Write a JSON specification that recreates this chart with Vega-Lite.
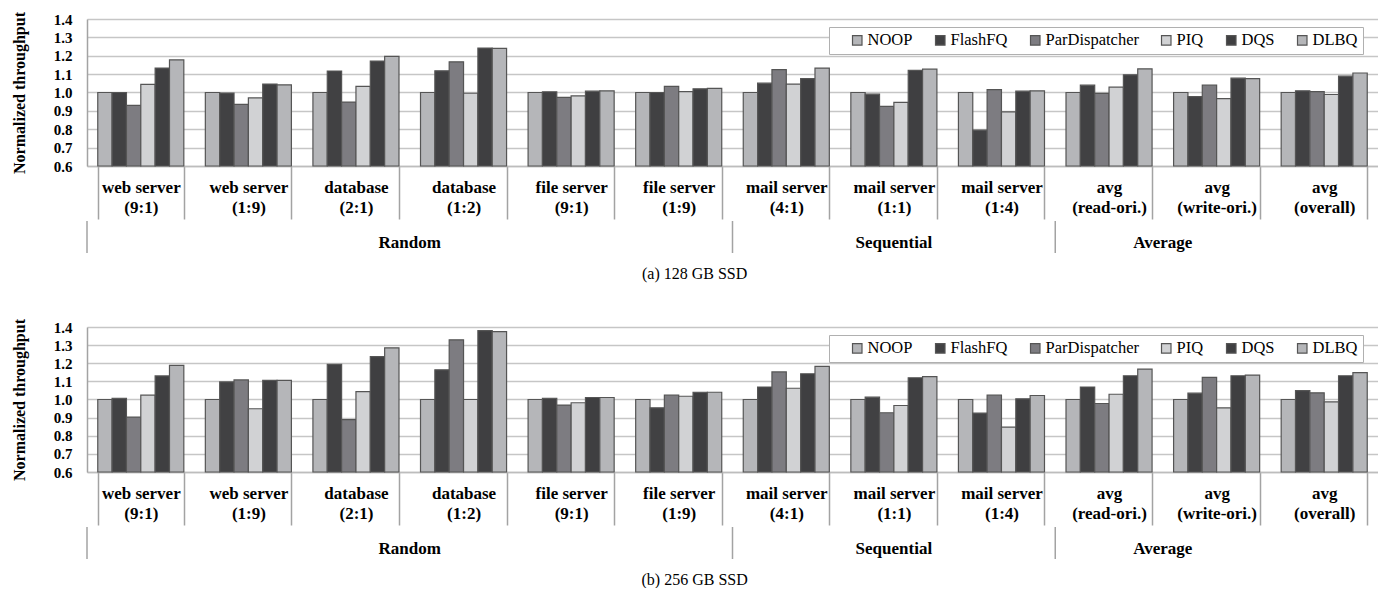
{
  "$schema": "https://vega.github.io/schema/vega-lite/v6.json",
  "background": "white",
  "padding": {"left": 11, "top": 11, "right": 0, "bottom": 0},
  "datasets": {
    "ssd128": [
      {"w":"web server (9:1)","s":"NOOP","v":1.0},{"w":"web server (9:1)","s":"FlashFQ","v":1.0},{"w":"web server (9:1)","s":"ParDispatcher","v":0.93},{"w":"web server (9:1)","s":"PIQ","v":1.044},{"w":"web server (9:1)","s":"DQS","v":1.133},{"w":"web server (9:1)","s":"DLBQ","v":1.178},
      {"w":"web server (1:9)","s":"NOOP","v":1.0},{"w":"web server (1:9)","s":"FlashFQ","v":0.997},{"w":"web server (1:9)","s":"ParDispatcher","v":0.935},{"w":"web server (1:9)","s":"PIQ","v":0.971},{"w":"web server (1:9)","s":"DQS","v":1.046},{"w":"web server (1:9)","s":"DLBQ","v":1.042},
      {"w":"database (2:1)","s":"NOOP","v":1.0},{"w":"database (2:1)","s":"FlashFQ","v":1.117},{"w":"database (2:1)","s":"ParDispatcher","v":0.948},{"w":"database (2:1)","s":"PIQ","v":1.033},{"w":"database (2:1)","s":"DQS","v":1.171},{"w":"database (2:1)","s":"DLBQ","v":1.197},
      {"w":"database (1:2)","s":"NOOP","v":1.0},{"w":"database (1:2)","s":"FlashFQ","v":1.118},{"w":"database (1:2)","s":"ParDispatcher","v":1.167},{"w":"database (1:2)","s":"PIQ","v":0.996},{"w":"database (1:2)","s":"DQS","v":1.242},{"w":"database (1:2)","s":"DLBQ","v":1.24},
      {"w":"file server (9:1)","s":"NOOP","v":1.0},{"w":"file server (9:1)","s":"FlashFQ","v":1.004},{"w":"file server (9:1)","s":"ParDispatcher","v":0.973},{"w":"file server (9:1)","s":"PIQ","v":0.982},{"w":"file server (9:1)","s":"DQS","v":1.007},{"w":"file server (9:1)","s":"DLBQ","v":1.009},
      {"w":"file server (1:9)","s":"NOOP","v":1.0},{"w":"file server (1:9)","s":"FlashFQ","v":1.0},{"w":"file server (1:9)","s":"ParDispatcher","v":1.033},{"w":"file server (1:9)","s":"PIQ","v":1.005},{"w":"file server (1:9)","s":"DQS","v":1.02},{"w":"file server (1:9)","s":"DLBQ","v":1.022},
      {"w":"mail server (4:1)","s":"NOOP","v":1.0},{"w":"mail server (4:1)","s":"FlashFQ","v":1.051},{"w":"mail server (4:1)","s":"ParDispatcher","v":1.124},{"w":"mail server (4:1)","s":"PIQ","v":1.046},{"w":"mail server (4:1)","s":"DQS","v":1.075},{"w":"mail server (4:1)","s":"DLBQ","v":1.133},
      {"w":"mail server (1:1)","s":"NOOP","v":1.0},{"w":"mail server (1:1)","s":"FlashFQ","v":0.991},{"w":"mail server (1:1)","s":"ParDispatcher","v":0.924},{"w":"mail server (1:1)","s":"PIQ","v":0.946},{"w":"mail server (1:1)","s":"DQS","v":1.12},{"w":"mail server (1:1)","s":"DLBQ","v":1.127},
      {"w":"mail server (1:4)","s":"NOOP","v":1.0},{"w":"mail server (1:4)","s":"FlashFQ","v":0.795},{"w":"mail server (1:4)","s":"ParDispatcher","v":1.016},{"w":"mail server (1:4)","s":"PIQ","v":0.895},{"w":"mail server (1:4)","s":"DQS","v":1.007},{"w":"mail server (1:4)","s":"DLBQ","v":1.009},
      {"w":"avg (read-ori.)","s":"NOOP","v":1.0},{"w":"avg (read-ori.)","s":"FlashFQ","v":1.04},{"w":"avg (read-ori.)","s":"ParDispatcher","v":0.995},{"w":"avg (read-ori.)","s":"PIQ","v":1.029},{"w":"avg (read-ori.)","s":"DQS","v":1.096},{"w":"avg (read-ori.)","s":"DLBQ","v":1.129},
      {"w":"avg (write-ori.)","s":"NOOP","v":1.0},{"w":"avg (write-ori.)","s":"FlashFQ","v":0.978},{"w":"avg (write-ori.)","s":"ParDispatcher","v":1.04},{"w":"avg (write-ori.)","s":"PIQ","v":0.967},{"w":"avg (write-ori.)","s":"DQS","v":1.078},{"w":"avg (write-ori.)","s":"DLBQ","v":1.076},
      {"w":"avg (overall)","s":"NOOP","v":1.0},{"w":"avg (overall)","s":"FlashFQ","v":1.009},{"w":"avg (overall)","s":"ParDispatcher","v":1.005},{"w":"avg (overall)","s":"PIQ","v":0.989},{"w":"avg (overall)","s":"DQS","v":1.089},{"w":"avg (overall)","s":"DLBQ","v":1.106}
    ],
    "ssd256": [
      {"w":"web server (9:1)","s":"NOOP","v":1.0},{"w":"web server (9:1)","s":"FlashFQ","v":1.007},{"w":"web server (9:1)","s":"ParDispatcher","v":0.903},{"w":"web server (9:1)","s":"PIQ","v":1.024},{"w":"web server (9:1)","s":"DQS","v":1.13},{"w":"web server (9:1)","s":"DLBQ","v":1.188},
      {"w":"web server (1:9)","s":"NOOP","v":1.0},{"w":"web server (1:9)","s":"FlashFQ","v":1.097},{"w":"web server (1:9)","s":"ParDispatcher","v":1.108},{"w":"web server (1:9)","s":"PIQ","v":0.949},{"w":"web server (1:9)","s":"DQS","v":1.106},{"w":"web server (1:9)","s":"DLBQ","v":1.106},
      {"w":"database (2:1)","s":"NOOP","v":1.0},{"w":"database (2:1)","s":"FlashFQ","v":1.194},{"w":"database (2:1)","s":"ParDispatcher","v":0.889},{"w":"database (2:1)","s":"PIQ","v":1.044},{"w":"database (2:1)","s":"DQS","v":1.237},{"w":"database (2:1)","s":"DLBQ","v":1.285},
      {"w":"database (1:2)","s":"NOOP","v":1.0},{"w":"database (1:2)","s":"FlashFQ","v":1.164},{"w":"database (1:2)","s":"ParDispatcher","v":1.329},{"w":"database (1:2)","s":"PIQ","v":1.0},{"w":"database (1:2)","s":"DQS","v":1.38},{"w":"database (1:2)","s":"DLBQ","v":1.374},
      {"w":"file server (9:1)","s":"NOOP","v":1.0},{"w":"file server (9:1)","s":"FlashFQ","v":1.007},{"w":"file server (9:1)","s":"ParDispatcher","v":0.969},{"w":"file server (9:1)","s":"PIQ","v":0.982},{"w":"file server (9:1)","s":"DQS","v":1.011},{"w":"file server (9:1)","s":"DLBQ","v":1.011},
      {"w":"file server (1:9)","s":"NOOP","v":1.0},{"w":"file server (1:9)","s":"FlashFQ","v":0.954},{"w":"file server (1:9)","s":"ParDispatcher","v":1.024},{"w":"file server (1:9)","s":"PIQ","v":1.018},{"w":"file server (1:9)","s":"DQS","v":1.04},{"w":"file server (1:9)","s":"DLBQ","v":1.04},
      {"w":"mail server (4:1)","s":"NOOP","v":1.0},{"w":"mail server (4:1)","s":"FlashFQ","v":1.069},{"w":"mail server (4:1)","s":"ParDispatcher","v":1.152},{"w":"mail server (4:1)","s":"PIQ","v":1.062},{"w":"mail server (4:1)","s":"DQS","v":1.142},{"w":"mail server (4:1)","s":"DLBQ","v":1.183},
      {"w":"mail server (1:1)","s":"NOOP","v":1.0},{"w":"mail server (1:1)","s":"FlashFQ","v":1.013},{"w":"mail server (1:1)","s":"ParDispatcher","v":0.927},{"w":"mail server (1:1)","s":"PIQ","v":0.967},{"w":"mail server (1:1)","s":"DQS","v":1.12},{"w":"mail server (1:1)","s":"DLBQ","v":1.126},
      {"w":"mail server (1:4)","s":"NOOP","v":1.0},{"w":"mail server (1:4)","s":"FlashFQ","v":0.925},{"w":"mail server (1:4)","s":"ParDispatcher","v":1.024},{"w":"mail server (1:4)","s":"PIQ","v":0.848},{"w":"mail server (1:4)","s":"DQS","v":1.004},{"w":"mail server (1:4)","s":"DLBQ","v":1.022},
      {"w":"avg (read-ori.)","s":"NOOP","v":1.0},{"w":"avg (read-ori.)","s":"FlashFQ","v":1.069},{"w":"avg (read-ori.)","s":"ParDispatcher","v":0.978},{"w":"avg (read-ori.)","s":"PIQ","v":1.029},{"w":"avg (read-ori.)","s":"DQS","v":1.131},{"w":"avg (read-ori.)","s":"DLBQ","v":1.168},
      {"w":"avg (write-ori.)","s":"NOOP","v":1.0},{"w":"avg (write-ori.)","s":"FlashFQ","v":1.035},{"w":"avg (write-ori.)","s":"ParDispatcher","v":1.122},{"w":"avg (write-ori.)","s":"PIQ","v":0.954},{"w":"avg (write-ori.)","s":"DQS","v":1.131},{"w":"avg (write-ori.)","s":"DLBQ","v":1.135},
      {"w":"avg (overall)","s":"NOOP","v":1.0},{"w":"avg (overall)","s":"FlashFQ","v":1.049},{"w":"avg (overall)","s":"ParDispatcher","v":1.037},{"w":"avg (overall)","s":"PIQ","v":0.987},{"w":"avg (overall)","s":"DQS","v":1.131},{"w":"avg (overall)","s":"DLBQ","v":1.148}
    ],
    "seps": [{"first":"web server (9:1)"},{"first":"mail server (4:1)"},{"first":"avg (read-ori.)"}],
    "catEdge": [{"cat":"Random","at":"database (1:2)"},{"cat":"Average","at":"avg (write-ori.)"}],
    "catMid": [{"cat":"Sequential","at":"mail server (1:1)"}]
  },
  "spacing": 36,
  "resolve": {"scale": {"color": "independent", "x": "independent"}, "legend": {"color": "independent"}},
  "vconcat": [
    {
      "title": {"text": "(a)  128 GB SSD", "orient": "bottom", "anchor": "middle", "frame": "bounds", "offset": 12},
      "spacing": 0,
      "resolve": {"scale": {"color": "independent", "x": "independent"}, "legend": {"color": "independent"}},
      "vconcat": [
        {
          "width": 1291, "height": 147,
          "data": {"name": "ssd128"},
          "mark": {"type": "bar"},
          "encoding": {
            "x": {"field": "w", "type": "nominal", "title": null,
              "sort": ["web server (9:1)","web server (1:9)","database (2:1)","database (1:2)","file server (9:1)","file server (1:9)","mail server (4:1)","mail server (1:1)","mail server (1:4)","avg (read-ori.)","avg (write-ori.)","avg (overall)"],
              "scale": {"paddingInner": 0.2, "paddingOuter": 0.1},
              "axis": {"labelExpr": "split(replace(datum.label, ' (', '|('), '|')"}},
            "xOffset": {"field": "s", "type": "nominal", "sort": ["NOOP","FlashFQ","ParDispatcher","PIQ","DQS","DLBQ"], "scale": {"paddingInner": 0, "paddingOuter": 0}},
            "y": {"field": "v", "type": "quantitative", "title": "Normalized throughput",
              "scale": {"domain": [0.6, 1.4], "zero": false, "nice": false},
              "axis": {"values": [0.6,0.7,0.8,0.9,1.0,1.1,1.2,1.3,1.4], "format": ".1f"}},
            "y2": {"datum": 0.6},
            "color": {"field": "s", "type": "nominal",
              "scale": {"domain": ["NOOP","FlashFQ","ParDispatcher","PIQ","DQS","DLBQ"], "range": ["#b5b6b9","#414143","#7d7c81","#d1d2d4","#3f3f41","#b5b6b9"]},
              "legend": {"legendX": 742, "legendY": 8}}
          }
        },
        {
          "width": 1291, "height": 32,
          "layer": [
            {"data": {"name": "seps"}, "mark": {"type": "rule", "stroke": "#a3a3a3", "strokeWidth": 1.5},
             "encoding": {"x": {"field": "first", "type": "nominal", "bandPosition": 0, "axis": null,
               "scale": {"domain": ["web server (9:1)","web server (1:9)","database (2:1)","database (1:2)","file server (9:1)","file server (1:9)","mail server (4:1)","mail server (1:1)","mail server (1:4)","avg (read-ori.)","avg (write-ori.)","avg (overall)"], "paddingInner": 0, "paddingOuter": 0}}}},
            {"data": {"name": "catEdge"}, "mark": {"type": "text", "fontWeight": "bold", "fontSize": 17, "dy": 6},
             "encoding": {"x": {"field": "at", "type": "nominal", "bandPosition": 0, "axis": null}, "text": {"field": "cat"}}},
            {"data": {"name": "catMid"}, "mark": {"type": "text", "fontWeight": "bold", "fontSize": 17, "dy": 6},
             "encoding": {"x": {"field": "at", "type": "nominal", "bandPosition": 0.5, "axis": null}, "text": {"field": "cat"}}}
          ]
        }
      ]
    },
    {
      "title": {"text": "(b)  256 GB SSD", "orient": "bottom", "anchor": "middle", "frame": "bounds", "offset": 12},
      "spacing": 0,
      "resolve": {"scale": {"color": "independent", "x": "independent"}, "legend": {"color": "independent"}},
      "vconcat": [
        {
          "width": 1291, "height": 145,
          "data": {"name": "ssd256"},
          "mark": {"type": "bar"},
          "encoding": {
            "x": {"field": "w", "type": "nominal", "title": null,
              "sort": ["web server (9:1)","web server (1:9)","database (2:1)","database (1:2)","file server (9:1)","file server (1:9)","mail server (4:1)","mail server (1:1)","mail server (1:4)","avg (read-ori.)","avg (write-ori.)","avg (overall)"],
              "scale": {"paddingInner": 0.2, "paddingOuter": 0.1},
              "axis": {"labelExpr": "split(replace(datum.label, ' (', '|('), '|')"}},
            "xOffset": {"field": "s", "type": "nominal", "sort": ["NOOP","FlashFQ","ParDispatcher","PIQ","DQS","DLBQ"], "scale": {"paddingInner": 0, "paddingOuter": 0}},
            "y": {"field": "v", "type": "quantitative", "title": "Normalized throughput",
              "scale": {"domain": [0.6, 1.4], "zero": false, "nice": false},
              "axis": {"values": [0.6,0.7,0.8,0.9,1.0,1.1,1.2,1.3,1.4], "format": ".1f"}},
            "y2": {"datum": 0.6},
            "color": {"field": "s", "type": "nominal",
              "scale": {"domain": ["NOOP","FlashFQ","ParDispatcher","PIQ","DQS","DLBQ"], "range": ["#b5b6b9","#414143","#7d7c81","#d1d2d4","#3f3f41","#b5b6b9"]},
              "legend": {"legendX": 742, "legendY": 8}}
          }
        },
        {
          "width": 1291, "height": 32,
          "layer": [
            {"data": {"name": "seps"}, "mark": {"type": "rule", "stroke": "#a3a3a3", "strokeWidth": 1.5},
             "encoding": {"x": {"field": "first", "type": "nominal", "bandPosition": 0, "axis": null,
               "scale": {"domain": ["web server (9:1)","web server (1:9)","database (2:1)","database (1:2)","file server (9:1)","file server (1:9)","mail server (4:1)","mail server (1:1)","mail server (1:4)","avg (read-ori.)","avg (write-ori.)","avg (overall)"], "paddingInner": 0, "paddingOuter": 0}}}},
            {"data": {"name": "catEdge"}, "mark": {"type": "text", "fontWeight": "bold", "fontSize": 17, "dy": 6},
             "encoding": {"x": {"field": "at", "type": "nominal", "bandPosition": 0, "axis": null}, "text": {"field": "cat"}}},
            {"data": {"name": "catMid"}, "mark": {"type": "text", "fontWeight": "bold", "fontSize": 17, "dy": 6},
             "encoding": {"x": {"field": "at", "type": "nominal", "bandPosition": 0.5, "axis": null}, "text": {"field": "cat"}}}
          ]
        }
      ]
    }
  ],
  "config": {
    "view": {"stroke": null},
    "font": "Liberation Serif",
    "bar": {"stroke": "#555555", "strokeWidth": 1.2},
    "text": {"font": "Liberation Serif", "color": "#000000"},
    "axis": {"labelFont": "Liberation Serif", "labelFontWeight": "bold", "labelColor": "#000000", "titleFont": "Liberation Serif", "titleFontWeight": "bold", "titleColor": "#000000"},
    "axisX": {"tickBand": "extent", "tickSize": 53, "tickColor": "#a3a3a3", "tickWidth": 1.5, "labelPadding": -40, "labelBaseline": "top", "labelLineHeight": 20, "labelFontSize": 17, "labelAngle": 0, "labelOverlap": false, "labelLimit": 0, "domainColor": "#bdbdbd", "domainWidth": 1.5, "grid": false},
    "axisY": {"ticks": false, "labelPadding": 15, "labelFontSize": 15, "titleFontSize": 16, "titlePadding": 26, "domainColor": "#a3a3a3", "domainWidth": 1.5, "gridColor": "#c6c6c6", "gridWidth": 1.5},
    "legend": {"title": null, "orient": "none", "direction": "horizontal", "columns": 6, "symbolType": "square", "symbolSize": 90, "symbolStrokeColor": "#555555", "symbolStrokeWidth": 1, "symbolOffset": 15, "labelFont": "Liberation Serif", "labelFontSize": 16.5, "labelColor": "#000000", "labelOffset": 2, "columnPadding": 4, "padding": 5, "strokeColor": "#b0b0b0", "fillColor": "#ffffff"},
    "title": {"font": "Liberation Serif", "fontSize": 16, "fontWeight": "normal", "color": "#000000"}
  }
}
